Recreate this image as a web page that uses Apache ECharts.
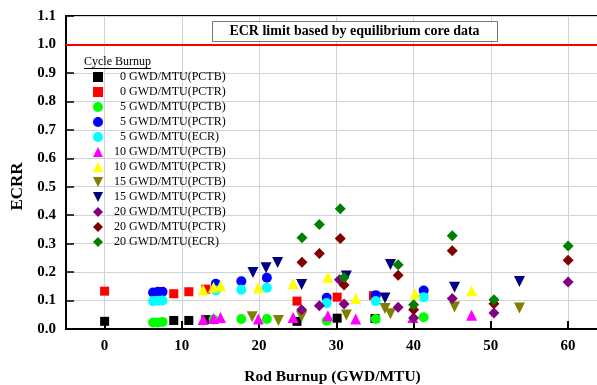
<!DOCTYPE html>
<html>
<head>
<meta charset="utf-8">
<script src="https://cdn.jsdelivr.net/npm/echarts@6/dist/echarts.min.js"></script>
<style>
html,body{margin:0;padding:0;background:#fff;}
#chart{width:597px;height:385px;}
</style>
</head>
<body>
<div id="chart"></div>
<script>
// ---- data (x = rod burnup GWD/MTU, y = ECRR) ----
const seriesNames = [
  '0 GWD/MTU(PCTB)', '0 GWD/MTU(PCTR)',
  '5 GWD/MTU(PCTB)', '5 GWD/MTU(PCTR)', '5 GWD/MTU(ECR)',
  '10 GWD/MTU(PCTB)', '10 GWD/MTU(PCTR)',
  '15 GWD/MTU(PCTB)', '15 GWD/MTU(PCTR)',
  '20 GWD/MTU(PCTB)', '20 GWD/MTU(PCTR)', '20 GWD/MTU(ECR)'
];
const c0_PCTB = [[0,0.027],[8.95,0.030],[10.9,0.030],[13.1,0.033],[24.9,0.027],[30.1,0.038],[35.0,0.037]];
const c0_PCTR = [[0,0.133],[8.95,0.124],[10.9,0.131],[13.1,0.140],[24.9,0.098],[30.1,0.112],[34.8,0.117]];
const c5_PCTB = [[6.27,0.023],[6.9,0.023],[7.5,0.025],[14.1,0.033],[17.7,0.035],[21.0,0.035],[28.75,0.029],[35.1,0.035],[41.3,0.041]];
const c5_PCTR = [[6.27,0.128],[6.9,0.131],[7.5,0.131],[14.4,0.159],[17.7,0.168],[21.0,0.180],[28.75,0.110],[35.1,0.119],[41.3,0.135]];
const c5_ECR  = [[6.27,0.098],[6.9,0.099],[7.5,0.100],[14.4,0.135],[17.7,0.138],[21.0,0.145],[28.75,0.091],[35.1,0.098],[41.3,0.112]];
const c10_PCTB = [[12.75,0.033],[14.1,0.037],[15.0,0.040],[19.9,0.035],[24.4,0.040],[28.9,0.047],[32.5,0.035],[39.9,0.040],[47.5,0.048]];
const c10_PCTR = [[12.75,0.138],[14.1,0.147],[15.0,0.152],[19.9,0.145],[24.4,0.159],[28.9,0.182],[32.5,0.107],[40.2,0.124],[47.5,0.134]];
const c15_PCTB = [[19.1,0.043],[22.5,0.030],[25.5,0.044],[31.3,0.049],[36.3,0.072],[37.0,0.054],[45.3,0.077],[53.7,0.074]];
const c15_PCTR = [[19.2,0.199],[20.9,0.215],[22.4,0.234],[25.5,0.156],[31.3,0.186],[36.3,0.109],[37.0,0.227],[45.3,0.147],[53.7,0.167]];
const c20_PCTB = [[25.5,0.068],[27.8,0.082],[30.4,0.173],[31.0,0.088],[38.0,0.076],[40.0,0.039],[45.0,0.107],[50.4,0.056],[60.0,0.165]];
const c20_PCTR = [[25.55,0.235],[27.8,0.265],[30.5,0.318],[31.0,0.155],[38.0,0.189],[40.0,0.068],[45.0,0.275],[50.4,0.089],[60.0,0.242]];
const c20_ECR  = [[25.55,0.321],[27.8,0.367],[30.5,0.423],[31.0,0.181],[38.0,0.226],[40.0,0.085],[45.0,0.328],[50.4,0.103],[60.0,0.292]];
const ecrLimit = 1.0;
const limitLabel = 'ECR limit based by equilibrium core data';
const legendTitle = 'Cycle Burnup';

const allData = [c0_PCTB,c0_PCTR,c5_PCTB,c5_PCTR,c5_ECR,c10_PCTB,c10_PCTR,c15_PCTB,c15_PCTR,c20_PCTB,c20_PCTR,c20_ECR];
const colors = ['#000000','#ff0000','#00ff00','#0000ff','#00ffff','#ff00ff','#ffff00','#808000','#000080','#800080','#800000','#008000'];
const symbols = ['rect','rect','circle','circle','circle','triangle','triangle','triangle','triangle','diamond','diamond','diamond'];
const rotates = [0,0,0,0,0,0,0,180,180,0,0,0];
const sizes = [9,9,10,10,10,11,11,11,11,11,11,11];

const FONT = "'Liberation Serif','Times New Roman',serif";

const series = allData.map((d,i)=>({
  name: seriesNames[i],
  type: 'scatter',
  data: d,
  symbol: symbols[i],
  symbolRotate: rotates[i],
  symbolSize: sizes[i],
  itemStyle: {color: colors[i], opacity: 1},
  emphasis: {disabled: true},
  z: 3 + i
}));
series[0].markLine = {
  silent: true,
  symbol: ['none','none'],
  label: {show: false},
  lineStyle: {color: '#ff0000', width: 2, type: 'solid'},
  data: [{yAxis: ecrLimit}],
  animation: false
};

const legendData = seriesNames.map((n,i)=> rotates[i] ? {name: n, icon: 'path://M0,0L10,0L5,10Z'} : {name: n});

const chart = echarts.init(document.getElementById('chart'), null, {renderer: 'canvas'});
chart.setOption({
  animation: false,
  backgroundColor: '#ffffff',
  grid: {left: 66, right: -2, top: 16, bottom: 56, show: true, borderColor: '#000', borderWidth: 2,
         backgroundColor: 'transparent', outerBoundsMode: 'none', containLabel: false},
  xAxis: {
    type: 'value', min: -5, max: 64, minInterval: 10, maxInterval: 10,
    name: 'Rod Burnup (GWD/MTU)', nameLocation: 'middle', nameGap: 40,
    nameTextStyle: {fontFamily: FONT, fontWeight: 'bold', fontSize: 15.5, color: '#000'},
    axisLine: {show: true, onZero: false, lineStyle: {color: '#000', width: 2}},
    axisTick: {show: true, inside: true, length: 8, lineStyle: {color: '#000', width: 2}},
    axisLabel: {showMinLabel: false, showMaxLabel: false, margin: 10, fontFamily: FONT, fontWeight: 'bold', fontSize: 15, color: '#000'},
    splitLine: {show: true, lineStyle: {color: '#d3d3d3', width: 1}}
  },
  yAxis: {
    type: 'value', min: 0, max: 1.1, interval: 0.1,
    name: 'ECRR', nameLocation: 'middle', nameGap: 38,
    nameTextStyle: {fontFamily: FONT, fontWeight: 'bold', fontSize: 17, color: '#000', padding: [0, 28, 0, 0]},
    axisLine: {show: true, onZero: false, lineStyle: {color: '#000', width: 2}},
    axisTick: {show: true, inside: true, length: 8, lineStyle: {color: '#000', width: 1.5}},
    axisLabel: {margin: 10, fontFamily: FONT, fontWeight: 'bold', fontSize: 15, color: '#000', formatter: v => v.toFixed(1)},
    splitLine: {show: true, lineStyle: {color: '#d3d3d3', width: 1}}
  },
  legend: {
    orient: 'vertical', left: 93, top: 71, padding: 0,
    itemWidth: 10, itemHeight: 10, itemGap: 3,
    data: legendData,
    selectedMode: false,
    formatter: name => {
      const k = name.indexOf(' ');
      const num = name.slice(0,k);
      return '{' + (num.length === 1 ? 'a' : 'b') + '|' + num + '}{t|' + name.slice(k) + '}';
    },
    textStyle: {
      fontFamily: FONT, fontSize: 12, color: '#000', lineHeight: 10,
      rich: {
        a: {fontFamily: FONT, fontSize: 12, color: '#000', lineHeight: 10, padding: [0, 0, 0, 12]},
        b: {fontFamily: FONT, fontSize: 12, color: '#000', lineHeight: 10, padding: [0, 0, 0, 6]},
        t: {fontFamily: FONT, fontSize: 12, color: '#000', lineHeight: 10}
      }
    }
  },
  graphic: [
    {type: 'rect', left: 212, top: 21, z: 50,
     shape: {width: 285, height: 20},
     style: {fill: '#fff', stroke: '#777', lineWidth: 1}},
    {type: 'text', x: 354.5, y: 31.5, z: 51,
     style: {text: limitLabel, fontFamily: FONT, fontWeight: 'bold', fontSize: 14, fill: '#000', align: 'center', verticalAlign: 'middle'}},
    {type: 'text', x: 84, y: 62, z: 51,
     style: {text: legendTitle, fontFamily: FONT, fontSize: 12, fill: '#000', align: 'left', verticalAlign: 'middle'}},
    {type: 'line', z: 51, shape: {x1: 84, y1: 68.5, x2: 151, y2: 68.5},
     style: {stroke: '#000', lineWidth: 1}}
  ],
  series: series
});
</script>
</body>
</html>
